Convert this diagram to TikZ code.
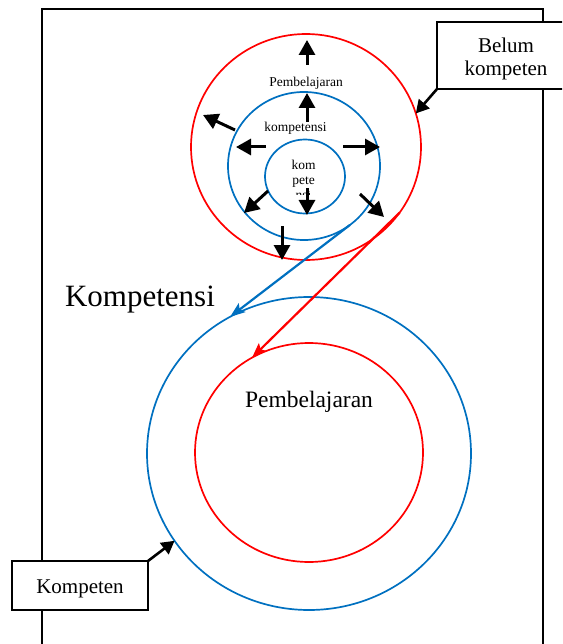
\documentclass[tikz,border=0pt]{standalone}
\usepackage{fontspec}
\setmainfont{Liberation Serif}
\usetikzlibrary{arrows.meta,shapes.geometric}
\definecolor{ringblue}{RGB}{0,112,192}
\definecolor{ringred}{RGB}{255,0,0}
\begin{document}
\begin{tikzpicture}[x=1pt,y=-1pt,
  ringline/.style={ellipse,line width=1.7pt,inner sep=0pt,outer sep=0pt},
  outarrow/.style={line width=3pt,-{Triangle[length=15pt,width=16pt]}},
  boxarrow/.style={line width=2.6pt,-{Triangle[length=13pt,width=14pt]}},
  linkarrow/.style={line width=2.2pt,-{Stealth[length=15pt,width=11pt,inset=3pt]}},
  smalltxt/.style={font=\fontsize{13.5}{15}\selectfont,inner sep=0pt,anchor=base},
  bigtxt/.style={font=\fontsize{21}{23}\selectfont,inner sep=0pt,anchor=base},
  tagbox/.style={draw,line width=1.3pt,fill=white,inner sep=0pt,outer sep=0pt}
]
\useasboundingbox (0,0) rectangle (562,644);
\clip (0,0) rectangle (562,644);

% outer frame
\draw[line width=1.8pt] (42,700) -- (42,9) -- (543,9) -- (543,700);

% upper group of rings
\node[ringline,draw=ringred,minimum width=230pt,minimum height=226pt] (outerRed) at (306,147) {};
\node[ringline,draw=ringblue,minimum width=152pt,minimum height=148pt] (midBlue) at (304,166) {};
\node[ringline,draw=ringblue,minimum width=80pt,minimum height=74pt] (innerBlue) at (305,176.5) {};

% lower group of rings
\node[ringline,draw=ringblue,minimum width=324pt,minimum height=313pt] (bigBlue) at (309,453.5) {};
\node[ringline,draw=ringred,minimum width=228pt,minimum height=219pt] (bigRed) at (309,452.5) {};

% labels inside the upper rings
\node[smalltxt] (tPemb) at (306,87) {Pembelajaran};
\node[smalltxt] (tKomp) at (295.5,131.5) {kompetensi};
\node[smalltxt] (tKom) at (303.5,170) {kom};
\node[smalltxt] (tPete) at (303.5,185) {pete};
\begin{scope}
  \clip (288,192) rectangle (322,195);
  \node[smalltxt] (tNsi) at (303.5,200) {nsi};
\end{scope}

% outward arrows
\foreach \n/\sx/\sy/\ex/\ey in {
  1/307/65/307/40, 2/307/122/307/93, 3/235/130/203/115,
  4/266/147/236/147, 5/343/147/380/147, 6/268/191/244/213,
  7/307/188/307/215, 8/360/194/384/217, 9/282/226/282/260}{
  \coordinate (s\n) at (\sx,\sy);
  \coordinate (e\n) at (\ex,\ey);
  \draw[outarrow] (s\n) -- (e\n);
}

% links between the two groups
\draw[linkarrow,ringblue] (midBlue.-52.5) -- (bigBlue.120.9);
\draw[linkarrow,ringred] (outerRed.-35.5) -- (bigRed.121.1);

% large labels
\node[font=\fontsize{31}{34}\selectfont,inner sep=0pt,anchor=base] (tKompetensi) at (140,306.5) {Kompetensi};
\node[font=\fontsize{23.5}{26}\selectfont,inner sep=0pt,anchor=base] (tPembelajaran) at (309,407) {Pembelajaran};

% side boxes
\node[tagbox,minimum width=138pt,minimum height=67pt] (belum) at (506,55.5) {};
\node[bigtxt] (tBelum) at (506,53) {Belum};
\node[bigtxt] (tBelumK) at (506,76) {kompeten};
\draw[boxarrow] (belum.south west) -- (outerRed.17.6);

\node[tagbox,minimum width=136pt,minimum height=49pt] (kompeten) at (80,585.5) {};
\node[bigtxt] (tKompeten) at (80,593) {Kompeten};
\draw[boxarrow] (kompeten.north east) -- (bigBlue.213.5);
\end{tikzpicture}
\end{document}
